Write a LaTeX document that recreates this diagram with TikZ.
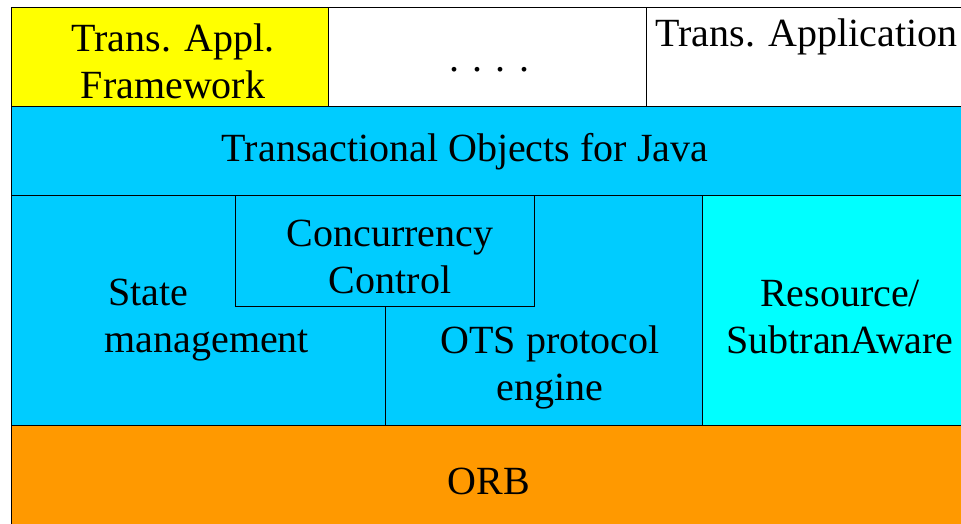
\documentclass[tikz,border=0pt]{standalone}
\usepackage{fontspec}
\setmainfont{Liberation Serif}
\definecolor{applyellow}{HTML}{FFFF00}
\definecolor{javablue}{HTML}{00CCFF}
\definecolor{rescyan}{HTML}{00FFFF}
\definecolor{orborange}{HTML}{FF9900}
\begin{document}
\begin{tikzpicture}[x=1pt, y=-1pt, line width=1.2pt,
    box/.style={draw, rectangle, anchor=north west, inner sep=0pt},
    txt/.style={inner sep=0pt, align=center, font=\fontsize{40}{47}\selectfont}]
                \useasboundingbox (0,0) rectangle (961,523);

                \node[box, fill=applyellow, minimum width=317pt, minimum height=99pt] (appl) at (11,7) {};
                \node[box, fill=white, minimum width=318pt, minimum height=99pt] (dots) at (328,7) {};
                \node[box, fill=white, minimum width=320pt, minimum height=99pt] (tapp) at (646,7) {};
                \node[box, fill=javablue, minimum width=955pt, minimum height=89pt] (java) at (11,106) {};
                \node[box, fill=javablue, minimum width=691pt, minimum height=230pt] (core) at (11,195) {};
                \node[box, fill=rescyan, minimum width=264pt, minimum height=230pt] (res) at (702,195) {};
                \node[box, fill=javablue, minimum width=299pt, minimum height=111pt] (conc) at (235,195) {};
                \draw (conc.south) -- (conc.south |- core.south);
                \node[box, fill=orborange, minimum width=955pt, minimum height=104pt] (orb) at (11,425) {};

                % texts
                \node[txt] (appltxt) at (173,61) {Trans. Appl.\\Framework};
                \node[txt] (dotstxt) at (489,70) {. . . .};
                \node[txt, anchor=west] (tapptxt) at (655,37) {Trans. Application};
                \node[txt] (javatxt) at (465,152) {Transactional Objects for Java};
                \node[txt] (conctxt) at (390,257) {Concurrency\\Control};
                \node[txt, anchor=west, align=left] (statetxt) at (104,320) {\hspace{4pt}State\\management};
                \node[txt] (otstxt) at (550,367) {OTS protocol\\engine};
                \node[txt] (restxt) at (840,317) {Resource/\\SubtranAware};
                \node[txt] (orbtxt) at (489,481) {ORB};
            \end{tikzpicture}
\end{document}
